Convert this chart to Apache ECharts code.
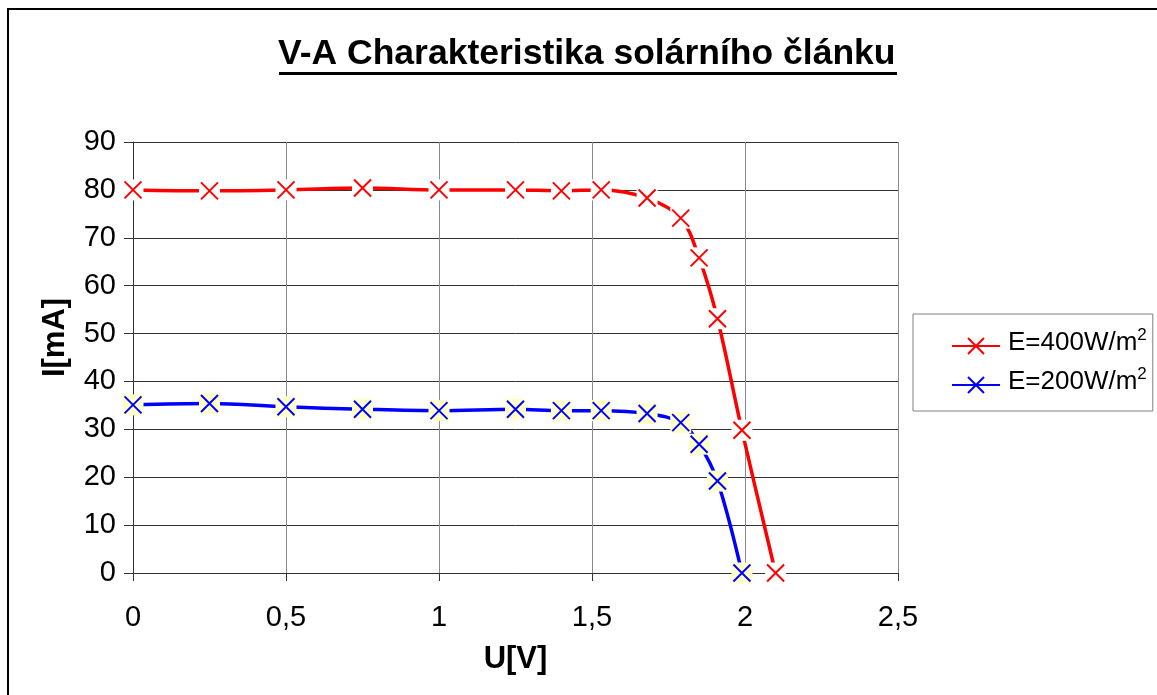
<!DOCTYPE html>
<html lang="cs">
<head>
    <meta charset="UTF-8">
    <title>V-A Charakteristika</title>
    <script src="https://cdn.jsdelivr.net/npm/echarts@6/dist/echarts.min.js"></script>
    <style>
        html, body { margin: 0; padding: 0; background: #fff; }
        #main { width: 1157px; height: 695px; }
    </style>
</head>
<body>
<div id="main"></div>
<script>
    // napeti U[V] a proud I[mA]
    var u400 = [0, 0.25, 0.5, 0.75, 1.0, 1.25, 1.40, 1.53, 1.68, 1.79, 1.85, 1.91, 1.99, 2.10];
    var i400 = [80.0, 79.8, 80.0, 80.4, 80.0, 80.0, 79.8, 80.0, 78.3, 74.1, 65.8, 53.1, 29.8, 0];
    var u200 = [0, 0.25, 0.5, 0.75, 1.0, 1.25, 1.40, 1.53, 1.68, 1.79, 1.85, 1.91, 1.99];
    var i200 = [35.1, 35.4, 34.7, 34.2, 33.9, 34.2, 33.9, 33.9, 33.3, 31.4, 26.9, 19.2, 0];
    var names = ['E=400W/m²', 'E=200W/m²'];
    var xTicks = [0, 0.5, 1, 1.5, 2, 2.5];

    var font = 'Liberation Sans, Arial, sans-serif';
    var krizek = 'path://M0,0L10,10M10,0L0,10';

    function pary(u, i) {
        return u.map(function (v, k) { return [v, i[k]]; });
    }

    // jedna krivka = cara + podklad znacky + krizek
    function krivka(name, data, barva, podklad) {
        return [
            {
                name: name,
                type: 'line',
                data: data,
                smooth: 0.35,
                showSymbol: false,
                symbol: krizek,
                symbolSize: 16,
                itemStyle: { color: barva, borderColor: barva, borderWidth: 2 },
                lineStyle: { color: barva, width: 3.5 },
                z: 2
            },
            {
                name: name + ' podklad',
                type: 'scatter',
                data: data,
                symbol: 'rect',
                symbolSize: 21,
                silent: true,
                itemStyle: { color: podklad, opacity: 1 },
                z: 3
            },
            {
                name: name + ' znacka',
                type: 'scatter',
                data: data,
                symbol: krizek,
                symbolSize: 17,
                silent: true,
                itemStyle: { color: barva, borderColor: barva, borderWidth: 2, opacity: 1 },
                z: 4
            }
        ];
    }

    var chart = echarts.init(document.getElementById('main'));
    var option = {
        backgroundColor: '#fff',
        animation: false,
        title: {
            text: 'V-A Charakteristika solárního článku',
            left: 278,
            top: 36,
            padding: 0,
            textStyle: { fontFamily: font, fontSize: 35.5, fontWeight: 'bold', color: '#000' }
        },
        graphic: [
            {
                type: 'rect',
                shape: { x: 8, y: 9, width: 1170, height: 710 },
                style: { fill: 'none', stroke: '#000', lineWidth: 2 },
                silent: true
            },
            {
                type: 'line',
                shape: { x1: 279, y1: 73.5, x2: 897, y2: 73.5 },
                style: { stroke: '#000', lineWidth: 3 },
                silent: true
            }
        ],
        legend: {
            orient: 'vertical',
            left: 913,
            top: 314,
            data: names,
            padding: [13, 6, 16, 38],
            itemWidth: 48,
            itemHeight: 20,
            itemGap: 10,
            borderColor: '#808080',
            borderWidth: 1,
            formatter: function (name) { return '{n|' + name.replace('²', '}{sup|2}'); },
            textStyle: {
                fontFamily: font,
                fontSize: 26,
                lineHeight: 20,
                color: '#000',
                padding: [0, 0, 0, 3],
                rich: {
                    n: { fontFamily: font, fontSize: 26, lineHeight: 20, verticalAlign: 'bottom', color: '#000' },
                    sup: { fontFamily: font, fontSize: 17, lineHeight: 14, verticalAlign: 'bottom', padding: [0, 0, 12, 0], color: '#000' }
                }
            }
        },
        grid: { left: 133, right: 259, top: 142, bottom: 122 },
        xAxis: {
            type: 'value',
            min: 0,
            max: 2.5,
            interval: 0.5,
            name: 'U[V]',
            nameLocation: 'middle',
            nameGap: 71,
            nameTextStyle: { fontFamily: font, fontSize: 31, fontWeight: 'bold', color: '#000' },
            axisLine: { lineStyle: { color: '#333', width: 1 } },
            axisTick: { show: true, length: 8, lineStyle: { color: '#333' } },
            axisLabel: {
                margin: 30,
                fontFamily: font,
                fontSize: 29,
                color: '#000',
                formatter: function (v) { return xTicks.indexOf(v) >= 0 ? String(v).replace('.', ',') : ''; }
            },
            splitLine: { show: true, lineStyle: { color: '#8a8a8a', width: 1 } }
        },
        yAxis: {
            type: 'value',
            min: 0,
            max: 90,
            interval: 10,
            name: 'I[mA]',
            nameLocation: 'middle',
            nameGap: 62,
            nameTextStyle: { fontFamily: font, fontSize: 31, fontWeight: 'bold', color: '#000', padding: [0, 0, 0, 40] },
            axisLine: { show: true, lineStyle: { color: '#333', width: 1 } },
            axisTick: { show: true, length: 9, lineStyle: { color: '#333' } },
            axisLabel: { margin: 17, fontFamily: font, fontSize: 29, color: '#000' },
            splitLine: { show: true, lineStyle: { color: '#333', width: 1 } }
        },
        series: [].concat(
            krivka(names[0], pary(u400, i400), '#ff0000', '#ffffff'),
            krivka(names[1], pary(u200, i200), '#0000ff', '#ffffcc')
        )
    };
    chart.setOption(option);
</script>
</body>
</html>
